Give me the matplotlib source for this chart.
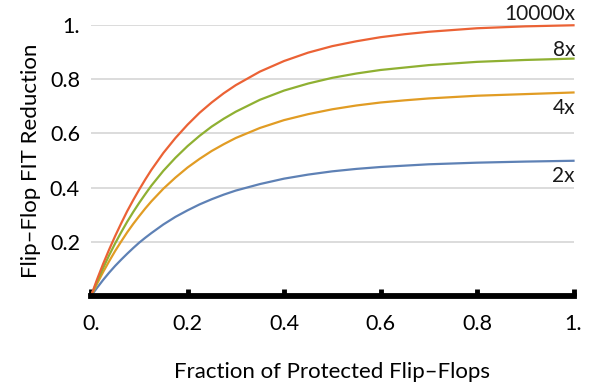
import matplotlib
matplotlib.use("Agg")
import matplotlib.pyplot as plt

plt.rcParams["font.family"] = ["Lato", "DejaVu Sans"]

# fraction of protected flip-flops
frac = [0, 0.0125, 0.025, 0.0375, 0.05, 0.0625, 0.075, 0.0875, 0.1, 0.1125,
        0.125, 0.15, 0.175, 0.2, 0.225, 0.25, 0.275, 0.3, 0.35, 0.4, 0.45,
        0.5, 0.55, 0.6, 0.65, 0.7, 0.8, 0.9, 1.0]

# FIT reduction for each hardening factor
red_2x = [0, 0.03, 0.059, 0.086, 0.111, 0.134, 0.156, 0.177, 0.197, 0.215,
          0.232, 0.264, 0.292, 0.316, 0.338, 0.357, 0.374, 0.389, 0.413, 0.433,
          0.448, 0.46, 0.469, 0.476, 0.481, 0.486, 0.492, 0.496, 0.499]
red_4x = [0, 0.045, 0.088, 0.128, 0.166, 0.201, 0.235, 0.266, 0.295, 0.323,
          0.349, 0.396, 0.437, 0.474, 0.506, 0.535, 0.56, 0.583, 0.62, 0.649,
          0.671, 0.689, 0.703, 0.714, 0.722, 0.729, 0.739, 0.745, 0.751]
red_8x = [0, 0.053, 0.103, 0.15, 0.194, 0.235, 0.274, 0.31, 0.344, 0.376,
          0.407, 0.462, 0.51, 0.553, 0.591, 0.625, 0.654, 0.68, 0.724, 0.758,
          0.784, 0.805, 0.821, 0.834, 0.843, 0.852, 0.864, 0.871, 0.876]
red_10000x = [0, 0.061, 0.118, 0.171, 0.221, 0.268, 0.313, 0.354, 0.393, 0.43,
              0.465, 0.528, 0.583, 0.632, 0.676, 0.714, 0.748, 0.778, 0.828,
              0.867, 0.898, 0.922, 0.94, 0.955, 0.966, 0.975, 0.988, 0.995, 0.999]

series = [("2x", red_2x, "#5E81B5", 0.443),
          ("4x", red_4x, "#E19C24", 0.694),
          ("8x", red_8x, "#8FB032", 0.908),
          ("10000x", red_10000x, "#EB6235", 1.04)]

xticks = [0, 0.2, 0.4, 0.6, 0.8, 1.0]
xtick_labels = ["0.", "0.2", "0.4", "0.6", "0.8", "1."]
yticks = [0.2, 0.4, 0.6, 0.8, 1.0]
ytick_labels = ["0.2", "0.4", "0.6", "0.8", "1."]

fig = plt.figure(figsize=(5.95, 3.84), dpi=100)
ax = fig.add_axes([91 / 595, 88 / 384, 482.5 / 595, 271 / 384])

for y in yticks:
    ax.axhline(y, color="#d9d9d9", lw=1.3, zorder=0)

for name, vals, col, ylab in series:
    ax.plot(frac, vals, color=col, lw=1.6, clip_on=False, zorder=3,
            solid_joinstyle="round")
    ax.text(1.003, ylab, name, ha="right", va="center", fontsize=15,
            color="#1a1a1a")

ax.set_xlim(0, 1)
ax.set_ylim(0, 1)
for s in ("left", "right", "top"):
    ax.spines[s].set_visible(False)
ax.spines["bottom"].set_linewidth(4.2)
ax.spines["bottom"].set_capstyle("projecting")
ax.spines["bottom"].set_zorder(4)

ax.set_xticks(xticks, xtick_labels)
ax.set_yticks(yticks, ytick_labels)
ax.tick_params(axis="x", direction="in", length=5, width=3.5, pad=13,
               labelsize=15.5, color="black")
ax.tick_params(axis="y", length=0, pad=8, labelsize=15.5)

ax.set_xlabel("Fraction of Protected Flip\u2013Flops", fontsize=16, labelpad=20)
ax.set_ylabel("Flip\u2013Flop FIT Reduction", fontsize=16, labelpad=6)

fig.savefig("out.png", dpi=100)
